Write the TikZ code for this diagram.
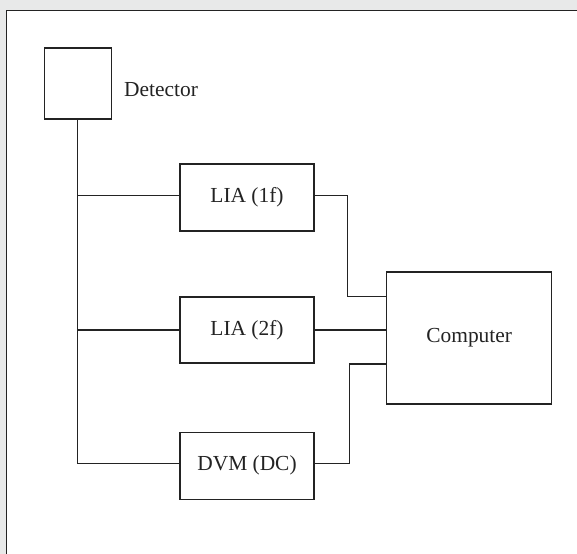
\documentclass[tikz,border=0pt]{standalone}
\usepackage{fontspec}
\setmainfont{Liberation Serif}
\definecolor{bg}{RGB}{232,233,233}
\definecolor{ink}{RGB}{35,35,35}
\begin{document}
\begin{tikzpicture}[x=1bp,y=-1bp,
  box/.style={draw=ink, line width=1.4bp, inner sep=0pt, font=\fontsize{21.5}{25}\selectfont, text=ink},
  wire/.style={draw=ink, line width=1.4bp},
  lbl/.style={inner sep=0pt, font=\fontsize{21.5}{25}\selectfont, text=ink}]
\fill[bg] (0,0) rectangle (577,554);
\useasboundingbox (0,0) rectangle (577,554);
\filldraw[fill=white, draw=ink, line width=1.6bp] (6.5,10.5) rectangle (600,600);
\node[box, minimum width=67bp, minimum height=71bp] (det) at (77.7,83.5) {};
\node[lbl, anchor=base west] (detl) at (124,96.7) {Detector};
\node[box, minimum width=134bp, minimum height=67bp] (lia1) at (247,197.5) {LIA (1f)};
\node[box, minimum width=134bp, minimum height=66bp] (lia2) at (247,330) {LIA (2f)};
\node[box, minimum width=134bp, minimum height=67bp] (dvm) at (247,465.8) {DVM (DC)};
\node[box, minimum width=165bp, minimum height=132bp] (comp) at (469.2,338) {Computer};
\draw[wire] (det.south) |- ([yshift=2.5bp]dvm.west);
\draw[wire] ([yshift=1.8bp]lia1.west) -- ([yshift=1.8bp]lia1.west -| det.south);
\draw[wire] (lia2.west) -- (lia2.west -| det.south);
\draw[wire] ([yshift=1.8bp]lia1.east) -- ++(32.7,0) |- ([yshift=41.3bp]comp.west);
\draw[wire] (lia2.east) -- (lia2.east -| comp.west);
\draw[wire] ([yshift=2.5bp]dvm.east) -- ++(34.7,0) |- ([yshift=-26bp]comp.west);
\end{tikzpicture}
\end{document}
